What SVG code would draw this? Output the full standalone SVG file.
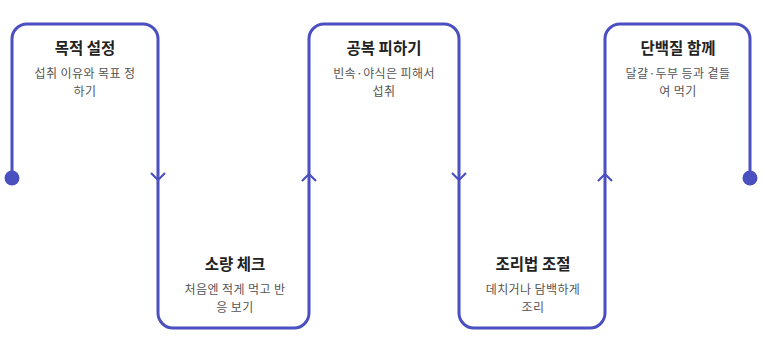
<svg xmlns="http://www.w3.org/2000/svg" width="764" height="337" viewBox="0 0 764 337">
<defs>
<style>
.line{fill:none;stroke:#4a50c0;stroke-width:3;stroke-linejoin:round}
.title{font-family:"Noto Sans CJK KR","Noto Sans",sans-serif;font-size:15.5px;font-weight:700;fill:#222;text-anchor:middle}
.desc{font-family:"Noto Sans CJK KR","Noto Sans",sans-serif;font-size:12px;letter-spacing:0.4px;fill:#555;text-anchor:middle}
.dot{fill:#4a50c0}
</style>
<marker id="chev" markerUnits="userSpaceOnUse" viewBox="-10 -10 20 20" markerWidth="20" markerHeight="20" refX="0" refY="0" orient="auto">
<path d="M-7,-7 L0,0 L-7,7" fill="none" stroke="#4a50c0" stroke-width="2.2"/>
</marker>
</defs>
<rect width="764" height="337" fill="#fff"/>
<g id="connectors">
<path class="line" d="M12,178 V39 A15,15 0 0 1 27,24 H143 A15,15 0 0 1 158,39 V180" marker-end="url(#chev)"/>
<path class="line" d="M158,180 V313 A15,15 0 0 0 173,328 H294 A15,15 0 0 0 309,313 V174" marker-end="url(#chev)"/>
<path class="line" d="M309,174 V39 A15,15 0 0 1 324,24 H444 A15,15 0 0 1 459,39 V180" marker-end="url(#chev)"/>
<path class="line" d="M459,180 V313 A15,15 0 0 0 474,328 H590 A15,15 0 0 0 605,313 V174" marker-end="url(#chev)"/>
<path class="line" d="M605,174 V39 A15,15 0 0 1 620,24 H735 A15,15 0 0 1 750,39 V178"/>
<circle class="dot" cx="12" cy="178" r="7.5"/>
<circle class="dot" cx="750" cy="178" r="7.5"/>
</g>
<g id="node1">
<text class="title" x="85" y="54">목적 설정</text>
<text class="desc" x="85" y="78">섭취 이유와 목표 정</text>
<text class="desc" x="85" y="96">하기</text>
</g>
<g id="node2">
<text class="title" x="235" y="270">소량 체크</text>
<text class="desc" x="235" y="294">처음엔 적게 먹고 반</text>
<text class="desc" x="235" y="312">응 보기</text>
</g>
<g id="node3">
<text class="title" x="384" y="54">공복 피하기</text>
<text class="desc" x="384" y="78">빈속·야식은 피해서</text>
<text class="desc" x="384" y="96">섭취</text>
</g>
<g id="node4">
<text class="title" x="533" y="270">조리법 조절</text>
<text class="desc" x="533" y="294">데치거나 담백하게</text>
<text class="desc" x="533" y="312">조리</text>
</g>
<g id="node5">
<text class="title" x="678" y="54">단백질 함께</text>
<text class="desc" x="678" y="78">달걀·두부 등과 곁들</text>
<text class="desc" x="678" y="96">여 먹기</text>
</g>
</svg>
